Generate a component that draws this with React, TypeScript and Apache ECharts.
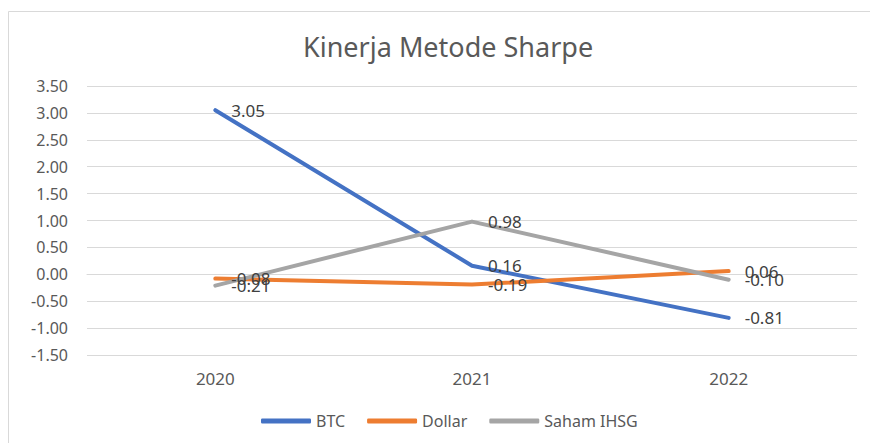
import React, { useEffect, useRef } from "react";
import * as echarts from "echarts";

const categories = ["2020", "2021", "2022"];
const btc = [3.05, 0.16, -0.81];
const dollar = [-0.08, -0.19, 0.06];
const saham = [-0.21, 0.98, -0.1];
const seriesNames = ["BTC", "Dollar", "Saham IHSG"];
const colors = ["#4472C4", "#ED7D31", "#A5A5A5"];

const FONT = "'Noto Sans', 'Open Sans', sans-serif";

export default function App() {
  const ref = useRef<HTMLDivElement>(null);
  useEffect(() => {
    if (!ref.current) return;
    const chart = echarts.init(ref.current, undefined, { renderer: "svg" });
    const mk = (name: string, data: number[], color: string) => ({
      name,
      type: "line",
      data,
      showSymbol: true,
      symbol: "circle",
      symbolSize: 0,
      lineStyle: { color, width: 4, cap: "round", join: "round" },
      itemStyle: { color },
      label: {
        show: true,
        position: "right",
        distance: 16,
        formatter: (p: any) => Number(p.value).toFixed(2),
        color: "#404040",
        fontSize: 17,
        fontFamily: FONT,
      },
    });
    chart.setOption({
      animation: false,
      backgroundColor: "#ffffff",
      title: {
        text: "Kinerja Metode Sharpe",
        left: 298,
        top: 28,
        textStyle: { color: "#595959", fontSize: 27, fontWeight: "normal", fontFamily: FONT },
      },
      graphic: [
        {
          type: "rect",
          shape: { x: 8.5, y: 11.5, width: 870, height: 440 },
          style: { fill: "none", stroke: "#d9d9d9", lineWidth: 1 },
          silent: true,
        },
      ],
      grid: { left: 87, right: 13, top: 86, bottom: 88, containLabel: false },
      xAxis: {
        type: "category",
        data: categories,
        boundaryGap: true,
        axisLine: { show: true, lineStyle: { color: "#d9d9d9" } },
        axisTick: { show: false },
        axisLabel: { color: "#595959", fontSize: 17, fontFamily: FONT, margin: 15 },
      },
      yAxis: {
        type: "value",
        min: -1.5,
        max: 3.5,
        interval: 0.5,
        axisLine: { show: false },
        axisTick: { show: false },
        splitLine: { lineStyle: { color: "#d9d9d9", width: 1 } },
        axisLabel: {
          color: "#595959",
          fontSize: 16,
          fontFamily: FONT,
          margin: 19,
          formatter: (v: number) => v.toFixed(2),
        },
      },
      legend: {
        data: seriesNames,
        left: 256,
        top: 408,
        itemWidth: 50,
        itemHeight: 5,
        itemGap: 22,
        icon: "roundRect",
        textStyle: { color: "#595959", fontSize: 16, fontFamily: FONT },
      },
      series: [
        mk(seriesNames[0], btc, colors[0]),
        mk(seriesNames[1], dollar, colors[1]),
        mk(seriesNames[2], saham, colors[2]),
      ],
    });
    return () => chart.dispose();
  }, []);
  return (
    <div
      ref={ref}
      style={{ position: "absolute", left: 0, top: 0, width: 870, height: 443 }}
    />
  );
}
